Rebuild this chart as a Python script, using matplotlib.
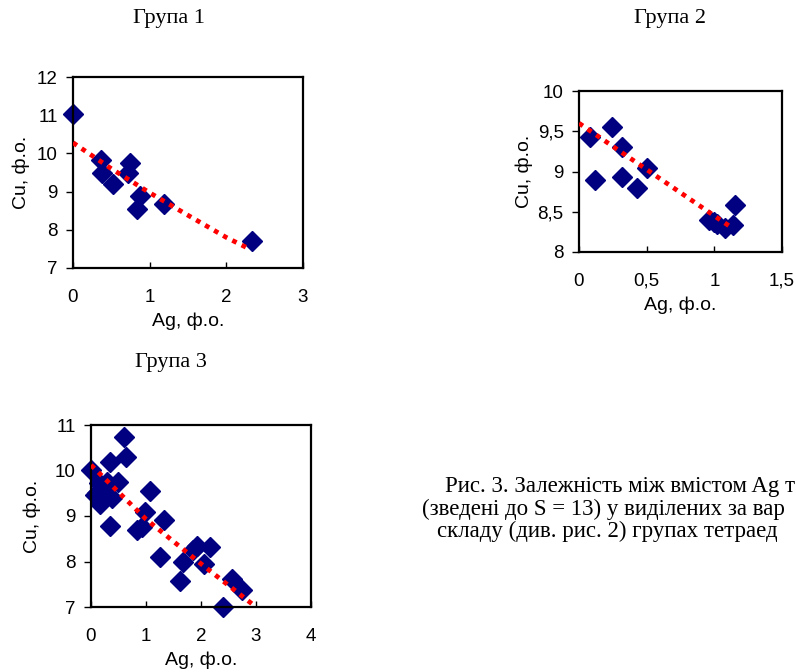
import matplotlib
matplotlib.use('Agg')
import matplotlib.pyplot as plt
from matplotlib.ticker import FuncFormatter

# Група 1
g1_ag = [0.0, 0.37, 0.38, 0.52, 0.72, 0.74, 0.87, 0.83, 1.19, 2.33]
g1_cu = [11.03, 9.84, 9.50, 9.19, 9.50, 9.76, 8.89, 8.54, 8.67, 7.70]
g1_trend_ag = [0.0, 0.5, 1.0, 1.5, 2.0, 2.3]
g1_trend_cu = [10.28, 9.60, 8.97, 8.38, 7.80, 7.50]

# Група 2
g2_ag = [0.084, 0.116, 0.247, 0.319, 0.319, 0.43, 0.50, 0.964, 1.0, 1.018, 1.08, 1.14, 1.154]
g2_cu = [9.43, 8.90, 9.556, 9.31, 8.93, 8.79, 9.04, 8.40, 8.37, 8.35, 8.30, 8.34, 8.59]
g2_trend_ag = [0.0, 1.13]
g2_trend_cu = [9.60, 8.30]

# Група 3
g3_ag = [0.0, 0.605, 0.64, 0.35, 0.14, 0.11, 0.17, 0.08, 0.29, 0.49, 0.38, 0.23,
         0.35, 1.08, 0.99, 0.835, 0.93, 1.32, 1.25, 1.67, 1.62, 1.85, 1.92, 2.17,
         2.06, 2.40, 2.56, 2.74]
g3_cu = [10.02, 10.74, 10.30, 10.19, 9.72, 9.50, 9.26, 9.46, 9.75, 9.75, 9.39, 9.57,
         8.78, 9.55, 9.09, 8.69, 8.76, 8.92, 8.10, 7.99, 7.57, 8.26, 8.34, 8.31,
         7.94, 7.01, 7.62, 7.37]
g3_trend_ag = [0.0, 1.0, 2.0, 3.0]
g3_trend_cu = [10.12, 8.93, 7.95, 7.00]

titles = ['Група 1', 'Група 2', 'Група 3']
xlabel = 'Ag, ф.о.'
ylabel = 'Cu, ф.о.'
# підпис обрізаний правим краєм, як на оригіналі
caption = ['Рис. 3. Залежність між вмістом Ag т',
           '(зведені до S = 13) у виділених за вар',
           'складу (див. рис. 2) групах тетраед']

W, H = 796, 672
fig = plt.figure(figsize=(W / 100, H / 100), dpi=100)

def box(l, t, r, b):
    return [l / W, (H - b) / H, (r - l) / W, (b - t) / H]

comma = FuncFormatter(lambda v, p: ('%g' % v).replace('.', ','))

def panel(rect, ag, cu, tag, tcu, xlim, ylim, xt, yt, ypad):
    ax = fig.add_axes(box(*rect))
    ax.plot(tag, tcu, color='#ff0000', lw=3.4, linestyle=(0, (1, 1.2)),
            dash_capstyle='butt', zorder=3)
    ax.plot(ag, cu, linestyle='none', marker='D', ms=10, color='#000080',
            mec='#000080', zorder=2, clip_on=False)
    ax.set_xlim(*xlim)
    ax.set_ylim(*ylim)
    ax.set_xticks(xt)
    ax.set_yticks(yt)
    ax.xaxis.set_major_formatter(comma)
    ax.yaxis.set_major_formatter(comma)
    for s in ax.spines.values():
        s.set_linewidth(1.6)
    ax.tick_params(axis='y', direction='out', length=5, width=1, pad=6)
    ax.tick_params(axis='x', direction='in', length=4, width=1, pad=15)
    for lab in ax.get_xticklabels() + ax.get_yticklabels():
        lab.set_fontfamily('Liberation Sans')
        lab.set_fontsize(13.5)
    ax.set_ylabel(ylabel, fontfamily='Liberation Sans', fontsize=14, labelpad=ypad)
    ax.set_xlabel(xlabel, fontfamily='Liberation Sans', fontsize=14, labelpad=5)
    return ax

panel((73, 77, 303, 268), g1_ag, g1_cu, g1_trend_ag, g1_trend_cu,
      (0, 3), (7, 12), [0, 1, 2, 3], [7, 8, 9, 10, 11, 12], 5)
panel((579, 91, 782, 252), g2_ag, g2_cu, g2_trend_ag, g2_trend_cu,
      (0, 1.5), (8, 10), [0, 0.5, 1, 1.5], [8, 8.5, 9, 9.5, 10], 3)
panel((91, 425, 311, 607), g3_ag, g3_cu, g3_trend_ag, g3_trend_cu,
      (0, 4), (7, 11), [0, 1, 2, 3, 4], [7, 8, 9, 10, 11], 10)

# заголовки груп
for t, (x, y) in zip(titles, [(169, 18), (670, 18), (171, 363)]):
    fig.text(x / W, 1 - y / H, t, ha='center', va='center',
             fontfamily='Liberation Serif', fontsize=16)

# підпис
for line, (x, y) in zip(caption, [(445, 492), (422, 515), (437, 537)]):
    fig.text(x / W, 1 - y / H, line, ha='left', va='baseline',
             fontfamily='Liberation Serif', fontsize=16.5)

fig.savefig('out.png', dpi=100)
